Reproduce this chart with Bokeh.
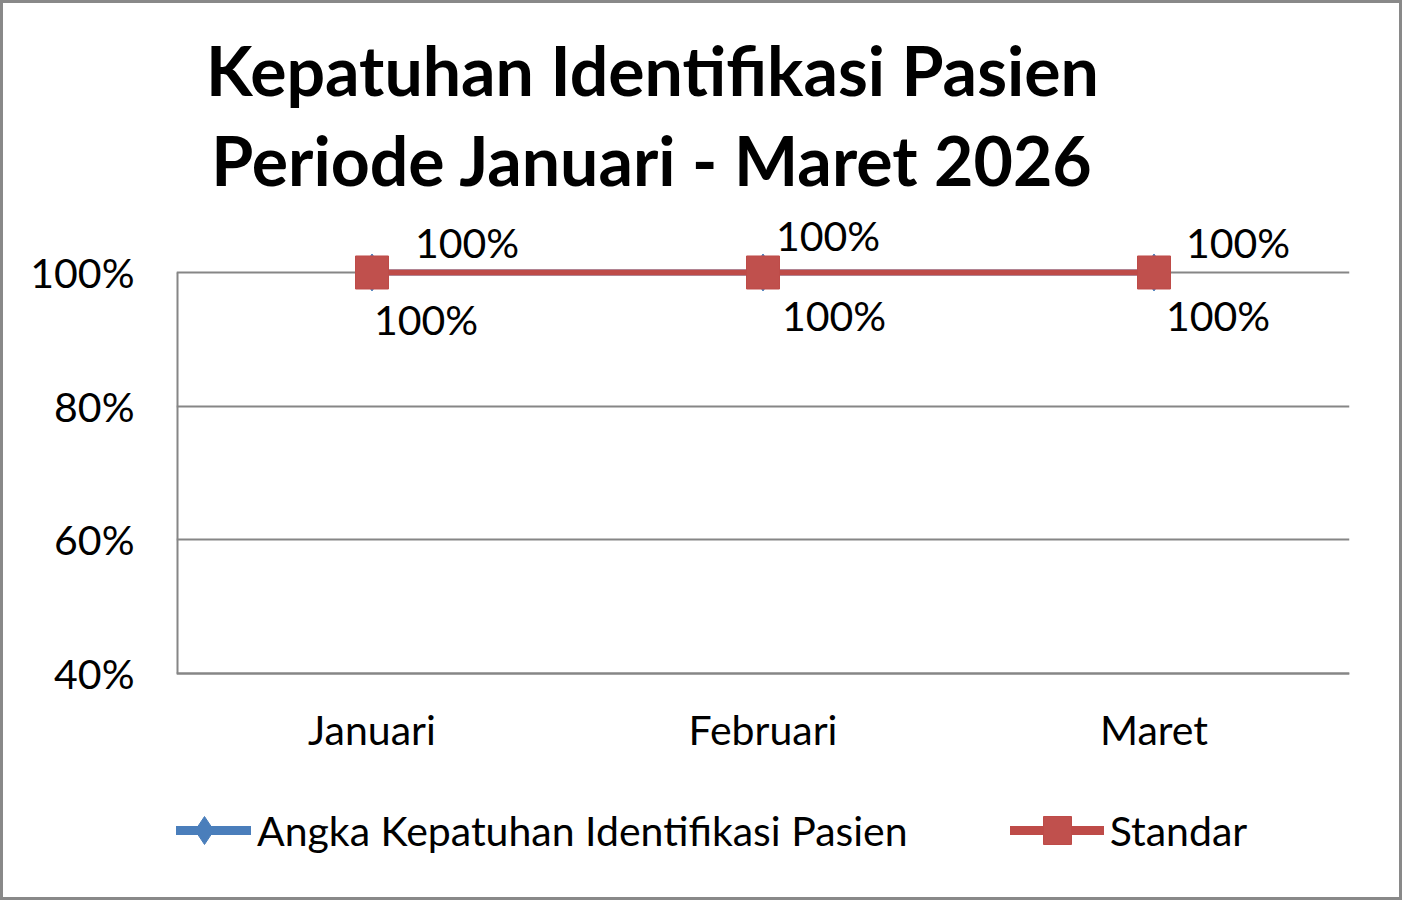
from bokeh.plotting import figure
from bokeh.models import (ColumnDataSource, FactorRange, Range1d, Label, LabelSet,
                          Legend, LegendItem, FixedTicker, NumeralTickFormatter)
from bokeh.core.properties import value
from bokeh.transform import dodge
from bokeh.embed import file_html
from bokeh.resources import INLINE

# ---- data ----
months = ["Januari", "Februari", "Maret"]
kepatuhan = [1.0, 1.0, 1.0]
standar = [1.0, 1.0, 1.0]
series_names = ["Angka Kepatuhan Identifikasi Pasien", "Standar"]
title_lines = ["Kepatuhan Identifikasi Pasien", "Periode Januari - Maret 2026"]
y_ticks = [0.4, 0.6, 0.8, 1.0]

# label offsets (pixels) for the data labels
std_dx = [95, 65, 84]
std_dy = [14, 21, 14]
kep_dx = [54, 71, 64]
kep_dy = [-63, -59, -59]

FONT = "Lato"
BLUE = "#4A7EBB"
RED = "#BE4B48"
GRAY = "#868686"

# frame covers the full canvas height; the value axis runs 40%..100% and the
# category axis is pinned at 40%, leaving room above for the title and below for the legend
p = figure(x_range=FactorRange(*months, range_padding=0), y_range=Range1d(0.06484, 1.40249),
           frame_width=1173, frame_height=894,
           min_border_left=173, min_border_right=50, min_border_top=0, min_border_bottom=0,
           output_backend="svg", toolbar_location=None)
p.styles = {"border": "3px solid #898989"}
p.outline_line_color = None
p.background_fill_color = "white"
p.border_fill_color = "white"

# axes
p.yaxis.ticker = FixedTicker(ticks=y_ticks)
p.yaxis.formatter = NumeralTickFormatter(format="0%")
for ax in (p.xaxis[0], p.yaxis[0]):
    ax.axis_line_color = GRAY
    ax.axis_line_width = 2
    ax.major_tick_line_color = None
    ax.minor_tick_line_color = None
    ax.major_label_text_font = FONT
    ax.major_label_text_font_size = "41px"
    ax.major_label_text_color = "black"
p.xaxis.fixed_location = y_ticks[0]
p.yaxis.axis_line_color = None
p.yaxis.major_label_standoff = 36
p.xaxis.major_label_standoff = 25
p.xgrid.grid_line_color = None
p.ygrid.grid_line_color = GRAY
p.ygrid.grid_line_width = 2
p.ygrid.ticker = FixedTicker(ticks=y_ticks)

# vertical axis line only over the value range
axsrc = ColumnDataSource(dict(x=[months[0]], y0=[y_ticks[0]], y1=[y_ticks[-1]]))
p.segment(x0=dodge("x", -0.5, range=p.x_range), y0="y0",
          x1=dodge("x", -0.5, range=p.x_range), y1="y1",
          source=axsrc, line_color=GRAY, line_width=4)

src = ColumnDataSource(dict(x=months, kep=kepatuhan, std=standar,
                            kep_txt=["{:.0%}".format(v) for v in kepatuhan],
                            std_txt=["{:.0%}".format(v) for v in standar],
                            std_dx=std_dx, std_dy=std_dy, kep_dx=kep_dx, kep_dy=kep_dy))

# series (blue underneath, red on top)
p.line("x", "kep", source=src, line_color=BLUE, line_width=6)
p.scatter("x", "kep", source=src, marker="diamond", size=37, fill_color=BLUE, line_color=BLUE)
p.line("x", "std", source=src, line_color=RED, line_width=6)
p.scatter("x", "std", source=src, marker="square", size=33, fill_color="#C0504D", line_color=RED)

# data labels
p.add_layout(LabelSet(x="x", y="std", text="std_txt", source=src, x_offset="std_dx", y_offset="std_dy",
                      text_align="center", text_baseline="alphabetic",
                      text_font=value(FONT), text_font_size="41px", text_color="black"))
p.add_layout(LabelSet(x="x", y="kep", text="kep_txt", source=src, x_offset="kep_dx", y_offset="kep_dy",
                      text_align="center", text_baseline="alphabetic",
                      text_font=value(FONT), text_font_size="41px", text_color="black"))

# title (two lines)
for txt, yy in zip(title_lines, [828, 738]):
    p.add_layout(Label(x=476, y=yy, x_units="screen", y_units="screen", text=txt,
                       text_align="center", text_baseline="middle",
                       text_font=FONT, text_font_style="bold", text_font_size="68px",
                       text_color="black"))

# legend (proxy renderers carrying the legend's own thicker strokes; NaN data so
# nothing of them shows in the plot area)
nan = float("nan")
proxy = ColumnDataSource(dict(x=[months[0]], y=[nan]))
lb = p.line("x", "y", source=proxy, line_color=BLUE, line_width=9, line_cap="round")
mb = p.scatter("x", "y", source=proxy, marker="diamond", size=30, fill_color=BLUE, line_color=BLUE)
lr = p.line("x", "y", source=proxy, line_color=RED, line_width=9, line_cap="round")
mr = p.scatter("x", "y", source=proxy, marker="square", size=28, fill_color="#C0504D", line_color=RED)
legend = Legend(items=[LegendItem(label=series_names[0], renderers=[lb, mb]),
                       LegendItem(label=series_names[1], renderers=[lr, mr])],
                orientation="horizontal", location=(-19, 32),
                glyph_width=94, glyph_height=70, label_height=70, label_standoff=6, spacing=102,
                padding=0, margin=0, border_line_color=None, background_fill_alpha=0,
                label_text_font=FONT, label_text_font_size="41px", label_text_color="black",
                label_text_baseline="middle")
p.add_layout(legend, "center")

open("out.html", "w").write(file_html(p, INLINE))
